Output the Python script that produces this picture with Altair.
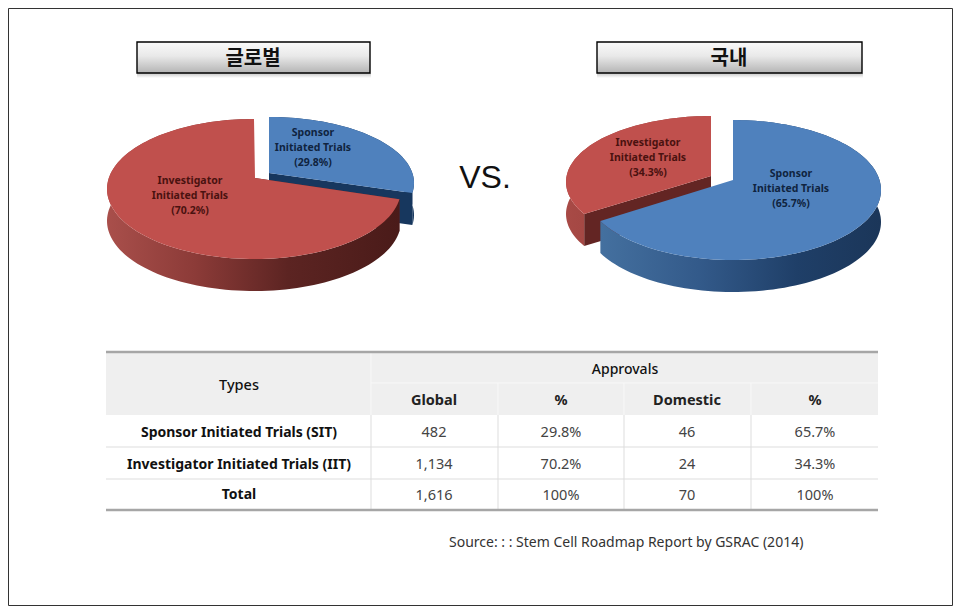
import math
import altair as alt

# ---------- values ----------
ROW_TYPES = ["Sponsor Initiated Trials (SIT)", "Investigator Initiated Trials (IIT)", "Total"]
GLOBAL_COUNTS = ["482", "1,134", "1,616"]
GLOBAL_PCT = ["29.8%", "70.2%", "100%"]
DOMESTIC_COUNTS = ["46", "24", "70"]
DOMESTIC_PCT = ["65.7%", "34.3%", "100%"]
GLOBAL_SHARE = [29.8, 70.2]      # sponsor, investigator
DOMESTIC_SHARE = [65.7, 34.3]    # sponsor, investigator
HEADERS = ["Global", "%", "Domestic", "%"]
SOURCE = "Source: : : Stem Cell Roadmap  Report by GSRAC (2014)"

# ---------- layout ----------
X0, X1, Y0, Y1 = 8, 953, 8, 606
FX = alt.Scale(domain=[X0, X1], nice=False, zero=False)
FY = alt.Scale(domain=[Y1, Y0], nice=False, zero=False)
DEPTH = 32
RED, BLUE = "#C0504D", "#4F81BD"
RED_D, BLUE_D = "#632523", "#17375E"
LATIN = "Noto Sans"
KOREAN = "Noto Sans CJK KR"


def grad(stops):
    return alt.Gradient(gradient="linear", x1=0, x2=1, y1=0, y2=0,
                        stops=[alt.GradientStop(offset=o, color=c) for o, c in stops])


def vgrad(stops):
    return alt.Gradient(gradient="linear", x1=0, x2=0, y1=0, y2=1,
                        stops=[alt.GradientStop(offset=o, color=c) for o, c in stops])


def make_proj(cx, cy, top, bottom, rx):
    b = (bottom - top) / (bottom + top)
    a = top * (1 + b)
    R = rx * math.sqrt(1 - b * b)

    def proj(t):
        r = math.radians(t)
        u, v = math.sin(r), math.cos(r)
        w = 1 + b * v
        return cx + R * u / w, cy - a * v / w
    return proj


def poly(pts, fill):
    vals = [{"x": x, "y": y, "i": i} for i, (x, y) in enumerate(pts + [pts[0]])]
    return alt.Chart(alt.Data(values=vals)).mark_line(
        fill=fill, stroke="transparent", strokeWidth=0, interpolate="linear"
    ).encode(
        x=alt.X("x:Q", scale=FX, axis=None),
        y=alt.Y("y:Q", scale=FY, axis=None),
        order="i:Q",
    )


def slice_layers(proj, tip, start_pct, share, top_fill, band_fill, radial_fill, radial_at):
    """Slice of a tilted pie; angles follow the share, clockwise from 12 o'clock."""
    t1 = start_pct * 3.6
    t2 = (start_pct + share) * 3.6
    n = max(8, int((t2 - t1) / 2))
    arc = [proj(t1 + (t2 - t1) * k / n) for k in range(n + 1)]
    e = proj(radial_at)
    radial = [tip, e, (e[0], e[1] + DEPTH), (tip[0], tip[1] + DEPTH)]
    band = arc + [(x, y + DEPTH) for x, y in reversed(arc)]
    return [poly(radial, radial_fill), poly(band, band_fill), poly([tip] + arc, top_fill)]


layers = []


def rect(x, x2, y, y2, **kw):
    return alt.Chart(alt.Data(values=[{"x": x, "x2": x2, "y": y, "y2": y2}])).mark_rect(**kw).encode(
        x=alt.X("x:Q", scale=FX, axis=None), x2="x2:Q",
        y=alt.Y("y:Q", scale=FY, axis=None), y2="y2:Q",
    )


def text(x, y, label, size, font=LATIN, weight="normal", color="#222222", align="center", **kw):
    return alt.Chart(alt.Data(values=[{"x": x, "y": y, "t": label}])).mark_text(
        fontSize=size, font=font, fontWeight=weight, color=color, align=align,
        baseline="middle", **kw
    ).encode(
        x=alt.X("x:Q", scale=FX, axis=None),
        y=alt.Y("y:Q", scale=FY, axis=None),
        text="t:N",
    )


def rule(x, x2, y, y2, color, width):
    return alt.Chart(alt.Data(values=[{"x": x, "x2": x2, "y": y, "y2": y2}])).mark_rule(
        color=color, strokeWidth=width
    ).encode(
        x=alt.X("x:Q", scale=FX, axis=None), x2="x2:Q",
        y=alt.Y("y:Q", scale=FY, axis=None), y2="y2:Q",
    )


# ---------- picture frame ----------
layers.append(rect(X0 + 0.5, X1 - 0.5, Y0 + 0.5, Y1 - 0.5, fill="#ffffff", stroke="#333333", strokeWidth=1))

# ---------- title boxes ----------
for x, x2, label, tx in [(137, 370, "글로벌", 253), (597, 862, "국내", 729)]:
    layers.append(rect(x, x2 + 1, 73, 78, fill=vgrad([(0, "#c4c4c4"), (1, "#ffffff")])))
    layers.append(rect(x, x2, 42, 73, fill=vgrad([(0, "#fafafa"), (0.45, "#e9e9e9"), (1, "#b4b4b4")]),
                       stroke="#000000", strokeWidth=1.4))
    layers.append(text(tx, 59, label, 20, font=KOREAN, weight="bold", color="#111111"))

# ---------- left pie: blue slice pulled out, then red ----------
blue_share, red_share = GLOBAL_SHARE
layers += slice_layers(make_proj(269, 173, 56, 76, 145), (269, 173), 0, blue_share,
                       BLUE, BLUE_D, BLUE_D, blue_share * 3.6)
layers += slice_layers(make_proj(254, 178, 59, 81, 147), (255, 178), blue_share, red_share, RED,
                       grad([(0, "#a94f4b"), (0.3, "#8c3b38"), (0.62, "#5c2422"), (1, "#4a1b19")]),
                       RED_D, blue_share * 3.6)

# ---------- right pie: red slice pulled out, then blue ----------
blue_share, red_share = DOMESTIC_SHARE
layers += slice_layers(make_proj(711, 176, 60, 72, 145), (711, 176), blue_share, red_share, RED,
                       grad([(0, "#a84a46"), (1, "#8a3733")]), RED_D, blue_share * 3.6)
layers += slice_layers(make_proj(733, 180, 60, 80, 148), (733, 180), 0, blue_share, BLUE,
                       grad([(0, "#44709f"), (0.35, "#335a8a"), (0.7, "#1f3f68"), (1, "#1b3659")]),
                       BLUE_D, 0)

# pie labels
for x, y, first, share, col in [
    (313, 133, "Sponsor", GLOBAL_SHARE[0], "#10243f"),
    (190, 181, "Investigator", GLOBAL_SHARE[1], "#4a1210"),
    (648, 143, "Investigator", DOMESTIC_SHARE[1], "#4a1210"),
    (791, 174, "Sponsor", DOMESTIC_SHARE[0], "#10243f"),
]:
    layers.append(text(x, y, f"{first}\nInitiated Trials\n({share}%)", 10.5, weight="bold",
                       color=col, lineBreak="\n", lineHeight=15))

layers.append(text(485, 178, "VS.", 32, font="Liberation Sans", color="#111111"))

# ---------- table ----------
COLS = [106, 371, 498, 624, 751, 878]
CENTERS = [239, 434, 561, 687, 815]
ROWS_Y = [433, 465, 496]

layers.append(rect(COLS[0], COLS[-1], 352, 415, fill="#efefef"))
layers.append(rule(COLS[1], COLS[-1], 383, 383, "#f8f8f8", 1))
layers.append(rule(COLS[1], COLS[1], 352, 415, "#f8f8f8", 1))
for c in COLS[2:5]:
    layers.append(rule(c, c, 383, 415, "#f8f8f8", 1))
for y in (447, 479):
    layers.append(rule(COLS[0], COLS[-1], y, y, "#dddddd", 1))
for c in COLS[1:5]:
    layers.append(rule(c, c, 415, 510, "#dddddd", 1))
layers.append(rule(COLS[0], COLS[-1], 352, 352, "#a6a6a6", 2.5))
layers.append(rule(COLS[0], COLS[-1], 510, 510, "#a6a6a6", 2.5))

layers.append(text(CENTERS[0], 386, "Types", 14.5, weight=500, color="#111111"))
layers.append(text(625, 370, "Approvals", 14, weight=500, color="#111111"))
for cx, h in zip(CENTERS[1:], HEADERS):
    layers.append(text(cx, 401, h, 14.5, weight="bold", color="#222222"))
for i, y in enumerate(ROWS_Y):
    layers.append(text(CENTERS[0], y - (1 if i == 2 else 0), ROW_TYPES[i], 14, weight="bold", color="#111111"))
    for cx, col in zip(CENTERS[1:], [GLOBAL_COUNTS, GLOBAL_PCT, DOMESTIC_COUNTS, DOMESTIC_PCT]):
        layers.append(text(cx, y, col[i], 14.5, color="#444444"))

layers.append(text(449, 543, SOURCE, 14, color="#333333", align="left"))

chart = alt.layer(*layers).properties(
    width=X1 - X0, height=Y1 - Y0, padding=0, autosize=alt.AutoSizeParams(type="none")
).configure_view(strokeWidth=0)

chart.save("out.html", embed_options={"renderer": "svg", "actions": False})
